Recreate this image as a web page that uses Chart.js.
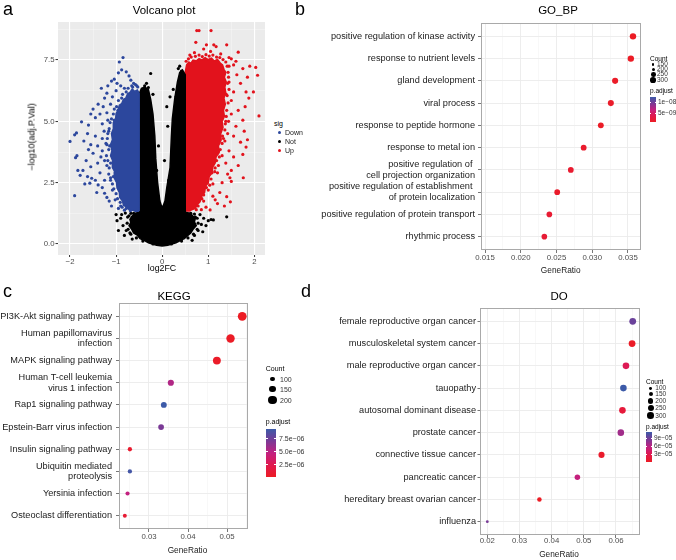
<!DOCTYPE html>
<html>
<head>
<meta charset="utf-8">
<script src="https://cdn.jsdelivr.net/npm/chart.js@4.4.0/dist/chart.umd.min.js"></script>
<style>
  body { margin: 0; background: #fff; }
  #fig { position: relative; width: 676px; height: 560px; overflow: hidden;
         font-family: "Liberation Sans", Arial, Helvetica, sans-serif; }
  #fig canvas { position: absolute; }
  .t { position: absolute; white-space: pre; line-height: 1; }
</style>
</head>
<body>
<div id="fig">
  <canvas id="chartVolcano" width="270" height="272" style="left:0;top:0"></canvas>
  <canvas id="chartGO" width="376" height="272" style="left:300px;top:0"></canvas>
  <canvas id="chartKEGG" width="300" height="288" style="left:0;top:272px"></canvas>
  <canvas id="chartDO" width="376" height="288" style="left:300px;top:272px"></canvas>
</div>
<script>
// ---------- a: volcano plot ----------
// the dense middle of each cloud is an outline [log2FC, -log10 p]; loose points around it are listed one by one
const downCloud = [[-0.5,1.35],[-0.5,6.15],[-0.54,6.28],[-0.6,6.22],[-0.65,6.32],[-0.7,6.18],[-0.75,6.12],[-0.79,5.95],
  [-0.84,5.9],[-0.88,5.72],[-0.93,5.66],[-0.96,5.45],[-1.0,5.32],[-1.01,5.1],[-1.06,4.95],[-1.06,4.7],[-1.1,4.5],
  [-1.08,4.25],[-1.12,4.05],[-1.09,3.8],[-1.12,3.6],[-1.07,3.38],[-1.08,3.12],[-1.03,2.95],[-1.04,2.7],[-0.99,2.5],
  [-0.98,2.28],[-0.93,2.1],[-0.92,1.9],[-0.86,1.75],[-0.84,1.58],[-0.77,1.5],[-0.72,1.4],[-0.64,1.38],[-0.58,1.33],
  [-0.5,1.35]];
const downPoints = [[-0.85,7.6],[-0.93,7.42],[-0.88,7.1],[-0.95,6.98],[-0.78,7.02],[-1.1,6.64],[-1.04,6.72],[-0.72,6.85],
  [-0.62,6.55],[-0.68,6.68],[-0.55,6.45],[-1.32,6.35],[-1.18,6.45],[-0.98,6.55],[-0.9,6.45],[-1.0,6.25],[-0.82,6.35],
  [-0.64,6.4],[-1.39,5.7],[-1.25,5.95],[-1.2,6.15],[-1.08,6.0],[-1.12,5.7],[-1.5,5.5],[-1.45,5.15],[-1.35,5.3],
  [-1.3,4.9],[-1.28,5.6],[-1.55,5.3],[-1.2,5.35],[-1.18,5.05],[-1.26,4.6],[-1.75,4.98],[-1.86,4.53],[-1.9,4.45],
  [-2.0,4.18],[-1.6,4.85],[-1.62,4.5],[-1.7,4.2],[-1.55,4.05],[-1.45,4.4],[-1.4,4.0],[-1.3,3.8],[-1.5,3.7],
  [-1.22,4.1],[-1.25,3.4],[-1.2,3.2],[-1.85,3.6],[-1.88,3.52],[-1.65,3.4],[-1.72,3.0],[-1.55,3.15],[-1.4,3.3],
  [-1.35,2.9],[-1.45,2.6],[-1.53,2.68],[-1.57,2.48],[-1.62,2.75],[-1.78,2.8],[-1.83,3.0],[-1.9,1.97],[-1.3,2.3],
  [-1.25,2.6],[-1.39,2.41],[-1.25,2.07],[-1.2,1.9],[-1.15,1.75],[-1.12,2.6],[-1.08,2.2],[-1.1,1.55],[-1.02,1.8],
  [-0.95,1.45],[-0.9,1.55],[-0.82,1.38],[-1.6,3.85],[-1.42,2.1],[-1.68,2.45],[-1.33,3.55],[-1.3,4.3],[-1.16,4.6],
  [-0.53,6.4],[-0.58,6.5],[-0.66,6.45],[-0.74,6.35],[-0.78,6.2],[-0.86,6.1],[-0.88,5.95],[-0.95,5.85],[-0.99,5.6],
  [-1.04,5.5],[-1.06,5.3],[-1.1,5.1],[-1.13,4.95],[-1.15,4.7],[-1.18,4.5],[-1.19,4.3],[-1.2,4.05],[-1.16,3.85],
  [-1.21,3.6],[-1.18,3.4],[-1.15,3.1],[-1.16,2.85],[-1.12,2.7],[-1.08,2.45],[-1.05,2.25],[-1.0,2.05],[-0.97,1.85],
  [-0.91,1.7],[-0.87,1.5],[-0.78,1.45],[-0.69,1.36],[-1.14,4.0],[-1.12,3.3],[-1.06,2.75],[-1.04,5.05],[-0.96,5.45]];
const notCloud = [[-0.5,6.1],[-0.5,1.3],[-0.6,1.25],[-0.66,1.12],[-0.7,1.0],[-0.68,0.88],[-0.72,0.75],[-0.66,0.6],
  [-0.62,0.45],[-0.54,0.36],[-0.48,0.22],[-0.38,0.14],[-0.3,0.05],[-0.12,-0.05],[0.0,-0.08],[0.12,-0.05],[0.3,0.05],
  [0.4,0.15],[0.48,0.22],[0.55,0.34],[0.62,0.45],[0.67,0.6],[0.74,0.75],[0.7,0.9],[0.72,1.05],[0.66,1.14],[0.62,1.25],
  [0.5,1.3],[0.5,6.9],[0.44,7.1],[0.38,7.0],[0.33,6.6],[0.27,5.9],[0.22,5.1],[0.2,4.4],[0.17,3.1],[0.1,2.3],
  [0.06,1.75],[0.0,1.45],[-0.05,1.75],[-0.1,2.5],[-0.14,3.5],[-0.16,4.4],[-0.2,5.3],[-0.25,5.9],[-0.3,6.3],
  [-0.38,6.4],[-0.45,6.35],[-0.5,6.1]];
const notPoints = [[-0.25,6.95],[0.38,7.25],[0.42,7.05],[0.46,6.85],[0.4,6.6],[0.17,6.0],[0.24,6.3],[-0.3,6.38],
  [-0.38,6.45],[-0.2,6.1],[0.1,5.6],[0.12,4.8],[-0.08,4.0],[0.05,3.4],[-0.62,1.25],[-0.72,1.15],[-0.8,1.26],
  [-0.9,1.05],[-0.98,0.95],[-0.85,0.75],[-0.78,0.55],[-0.82,0.35],[-0.7,0.45],[-0.95,0.55],[-0.65,0.2],[-1.0,1.2],
  [-0.88,1.2],[0.62,1.25],[0.72,1.1],[0.82,1.2],[0.9,1.05],[1.0,0.95],[1.06,1.0],[1.11,0.98],[1.4,1.11],
  [0.85,0.8],[0.95,0.75],[0.78,0.55],[0.7,0.35],[0.88,0.5],[0.65,0.15],
  [-0.76,0.85],[-0.74,0.6],[-0.68,0.4],[-0.56,0.25],[-0.42,0.12],[-0.2,0.0],[0.2,0.0],[0.42,0.12],[0.56,0.25],
  [0.68,0.4],[0.76,0.6],[0.78,0.85],[0.76,1.05],[0.7,1.22],[-0.75,1.1],[-0.68,1.25],
  [-0.12,1.9],[-0.14,2.6],[-0.17,3.2],[-0.12,3.0],[-0.19,4.0],[-0.2,4.6],[-0.23,5.0],[-0.27,5.6],[0.1,1.9],
  [0.14,2.6],[0.2,3.3],[0.23,4.0],[0.24,4.7],[0.28,5.4],[0.3,6.0],[0.04,1.55],[-0.34,6.55],[0.35,7.15]];
const upCloud = [[0.5,1.35],[0.5,7.0],[0.53,7.3],[0.58,7.42],[0.62,7.36],[0.67,7.5],[0.74,7.47],[0.8,7.56],
  [0.86,7.5],[0.93,7.6],[1.0,7.52],[1.07,7.58],[1.13,7.46],[1.2,7.52],[1.26,7.38],[1.31,7.3],[1.34,7.12],[1.38,7.0],
  [1.35,6.8],[1.39,6.6],[1.36,6.4],[1.38,6.15],[1.34,5.95],[1.37,5.7],[1.33,5.45],[1.35,5.2],[1.3,5.0],[1.32,4.75],
  [1.27,4.5],[1.28,4.25],[1.22,4.0],[1.24,3.75],[1.17,3.55],[1.15,3.3],[1.1,3.15],[1.08,2.9],[1.02,2.75],[1.0,2.5],
  [0.94,2.35],[0.92,2.1],[0.86,1.95],[0.82,1.72],[0.76,1.6],[0.72,1.45],[0.64,1.4],[0.6,1.35],[0.5,1.35]];
const upPoints = [[0.75,8.7],[0.8,8.7],[1.06,8.7],[0.73,8.22],[0.96,8.12],[1.12,8.12],[1.17,8.05],[1.4,8.12],
  [1.65,7.82],[1.05,7.85],[0.9,7.95],[0.6,7.7],[0.7,7.8],[1.27,7.75],[1.5,7.55],[1.55,7.3],[1.6,7.45],[1.45,7.6],
  [1.75,7.15],[1.9,7.25],[2.03,7.2],[2.07,6.88],[1.85,6.8],[1.7,6.55],[1.62,6.9],[1.45,7.25],[1.82,6.2],[1.88,5.95],
  [1.98,6.2],[1.55,6.2],[1.5,5.85],[1.45,6.6],[2.1,5.22],[1.8,5.6],[1.65,5.45],[1.5,5.3],[1.44,5.0],[1.75,5.05],
  [1.6,4.8],[1.78,4.6],[1.85,4.25],[1.7,4.15],[1.55,4.4],[1.42,4.5],[1.82,3.95],[1.75,3.65],[1.55,3.55],[1.45,3.8],
  [1.36,4.2],[1.65,3.2],[1.5,3.0],[1.38,3.3],[1.3,3.6],[1.42,2.85],[1.47,2.7],[1.76,2.7],[1.5,2.55],[1.3,2.5],
  [1.25,2.1],[1.4,1.93],[1.48,1.72],[1.35,1.55],[1.15,1.8],[1.04,1.39],[1.2,1.65],[0.95,1.5],[0.9,1.75],[1.0,2.2],
  [1.1,2.45],[1.2,2.9],[1.22,3.2],[1.1,1.95],[0.85,1.4],
  [0.52,7.45],[0.57,7.55],[0.63,7.62],[0.72,7.65],[0.8,7.7],[0.87,7.64],[0.95,7.72],[1.02,7.66],[1.1,7.7],
  [1.18,7.62],[1.25,7.6],[1.32,7.52],[1.38,7.42],[1.41,7.25],[1.43,7.0],[1.44,6.8],[1.42,6.55],[1.45,6.3],
  [1.41,6.05],[1.43,5.75],[1.4,5.45],[1.39,5.2],[1.37,4.9],[1.36,4.65],[1.31,4.4],[1.3,4.1],[1.26,3.85],[1.24,3.55],
  [1.18,3.4],[1.15,3.1],[1.08,2.9],[1.06,2.65],[0.98,2.5],[0.96,2.3],[0.9,2.0],[0.86,1.85],[0.78,1.55],[0.74,1.4],
  [1.39,6.1],[1.38,5.0],[1.33,4.3],[1.2,3.7],[1.14,2.95],[1.03,2.4]];
const sigLabels = ["Down", "Not", "Up"];
const log2fcTicks = [-2, -1, 0, 1, 2];

// ---------- b: GO_BP ----------
const bpTerms = ["positive regulation of kinase activity", "response to nutrient levels", "gland development",
  "viral process", "response to peptide hormone", "response to metal ion",
  "positive regulation of \ncell projection organization",
  "positive regulation of establishment \nof protein localization",
  "positive regulation of protein transport", "rhythmic process"];
const bpRatio = [0.0357, 0.0354, 0.0332, 0.0326, 0.0312, 0.0288, 0.0270, 0.0251, 0.0240, 0.0233];
const bpCount = [338, 335, 322, 318, 310, 306, 303, 301, 298, 296];
const bpPadj = [1.0e-9, 1.1e-9, 1.3e-9, 1.4e-9, 1.2e-9, 1.6e-9, 1.8e-9, 1.5e-9, 2.0e-9, 2.2e-9];
const bpPadjLimits = [1.0e-9, 1.28e-8];
const bpCountBreaks = [150, 200, 250, 300];
const bpPadjBreaks = [1e-8, 5e-9];

// ---------- c: KEGG ----------
const keggTerms = ["PI3K-Akt signaling pathway", "Human papillomavirus\ninfection", "MAPK signaling pathway",
  "Human T-cell leukemia\nvirus 1 infection", "Rap1 signaling pathway", "Epstein-Barr virus infection",
  "Insulin signaling pathway", "Ubiquitin mediated\nproteolysis", "Yersinia infection", "Osteoclast differentiation"];
const keggRatio = [0.0539, 0.0509, 0.0474, 0.0356, 0.0338, 0.0331, 0.0251, 0.0251, 0.0245, 0.0238];
const keggCount = [220, 208, 193, 146, 139, 136, 103, 103, 100, 97];
const keggPadj = [2.0e-8, 1.5e-7, 3.0e-7, 5.2e-6, 9.3e-6, 7.0e-6, 6.0e-7, 9.0e-6, 4.6e-6, 9.0e-7];
const keggPadjLimits = [2.0e-8, 9.3e-6];
const keggCountBreaks = [100, 150, 200];
const keggPadjBreaks = [7.5e-6, 5.0e-6, 2.5e-6];

// ---------- d: DO ----------
const doTerms = ["female reproductive organ cancer", "musculoskeletal system cancer", "male reproductive organ cancer",
  "tauopathy", "autosomal dominant disease", "prostate cancer", "connective tissue cancer", "pancreatic cancer",
  "hereditary breast ovarian cancer", "influenza"];
const doRatio = [0.0652, 0.0650, 0.0631, 0.0623, 0.0620, 0.0615, 0.0555, 0.0480, 0.0362, 0.0200];
const doCount = [310, 309, 300, 296, 295, 292, 264, 228, 172, 96];
const doPadj = [9.2e-5, 3.0e-6, 3.2e-5, 1.13e-4, 1.6e-5, 7.0e-5, 6.0e-6, 5.5e-5, 1.0e-6, 8.6e-5];
const doPadjLimits = [1.0e-6, 1.13e-4];
const doCountBreaks = [100, 150, 200, 250, 300];
const doPadjBreaks = [9e-5, 6e-5, 3e-5];

// ---------- styling ----------
const FONT = '"Liberation Sans", Arial, Helvetica, sans-serif';
Chart.defaults.font.family = FONT;
const sigColors = ["#2C479D", "#000000", "#E2121C"];
// p.adjust colour ramp, low (red) -> high (blue)
const padjStops = [[0, "#EC1C24"], [0.25, "#E0194F"], [0.5, "#C22180"], [0.75, "#7B3A96"], [1, "#3C5AA8"]];

function hexRgb(h) { return [1, 3, 5].map(i => parseInt(h.slice(i, i + 2), 16)); }
function padjColor(p, lim) {
  let t = (p - lim[0]) / (lim[1] - lim[0]);
  t = Math.max(0, Math.min(1, t));
  for (let i = 1; i < padjStops.length; i++) {
    const [t1, c1] = padjStops[i];
    const [t0, c0] = padjStops[i - 1];
    if (t <= t1) {
      const f = (t - t0) / (t1 - t0);
      const a = hexRgb(c0), b = hexRgb(c1);
      return "rgb(" + a.map((v, k) => Math.round(v + (b[k] - v) * f)).join(",") + ")";
    }
  }
  return padjStops[padjStops.length - 1][1];
}
// dot radius from Count (area-like scaling between two anchor sizes)
function sizeScale(cLo, cHi, rLo, rHi) {
  return c => rLo + (rHi - rLo) * (Math.sqrt(c) - Math.sqrt(cLo)) / (Math.sqrt(cHi) - Math.sqrt(cLo));
}
const bpSize = sizeScale(150, 300, 1.1, 2.85);
const keggSize = sizeScale(97, 220, 2.0, 4.4);
const doSize = sizeScale(96, 310, 1.4, 3.4);

// panel background + border
function panelBox(fill, stroke) {
  return {
    id: "panelBox",
    beforeDraw(chart) {
      const { ctx, chartArea: a } = chart;
      ctx.save();
      ctx.fillStyle = fill;
      ctx.fillRect(a.left, a.top, a.width, a.height);
      ctx.restore();
    },
    afterDatasetsDraw(chart) {
      if (!stroke) return;
      const { ctx, chartArea: a } = chart;
      ctx.save();
      ctx.strokeStyle = stroke;
      ctx.lineWidth = 1;
      ctx.strokeRect(Math.round(a.left) + 0.5, Math.round(a.top) + 0.5, Math.round(a.width) - 1, Math.round(a.height) - 1);
      ctx.restore();
    }
  };
}

// continuous axis with major + minor grid
function numAxis(o) {
  const isMajor = v => Math.abs(v / o.major - Math.round(v / o.major)) < 1e-6;
  const maj = c => c.tick && isMajor(c.tick.value);
  return {
    type: "linear", min: o.min, max: o.max,
    afterFit: s => { if (o.h !== undefined) s.height = o.h; if (o.w !== undefined) s.width = o.w; },
    border: { display: false },
    grid: {
      color: c => maj(c) ? o.gridMajor : o.gridMinor,
      lineWidth: c => maj(c) ? o.lwMajor : o.lwMinor,
      tickLength: o.tickLen,
      tickColor: c => maj(c) ? o.tickCol : "rgba(0,0,0,0)",
      tickWidth: 1
    },
    ticks: {
      stepSize: o.major / 2, includeBounds: false, autoSkip: false, maxRotation: 0, maxTicksLimit: 100,
      padding: o.pad, color: "#4D4D4D", font: { size: o.font }, z: 1,
      callback: v => isMajor(v) ? o.fmt(v) : ""
    }
  };
}

const baseOptions = {
  responsive: false, animation: false, events: [],
  plugins: { legend: { display: false }, tooltip: { enabled: false } }
};

// ---------- draw a ----------
function cloudSet(pts, col) {
  return { data: pts.map(([x, y]) => ({ x, y })), showLine: true, fill: "shape", tension: 0,
    backgroundColor: col, borderColor: col, borderWidth: 1.5, pointRadius: 0 };
}
function pointSet(pts, col) {
  return { data: pts.map(([x, y]) => ({ x, y })), backgroundColor: col, borderWidth: 0, pointRadius: 1.6 };
}
const minusFmt = v => {
  const n = Math.round(v);
  return n < 0 ? "\u2212" + (-n) : String(Math.abs(n));
};
// x ticks come straight from the listed breaks (plus the half-way minor lines)
const volcanoX = numAxis({ min: -2.261, max: 2.231, major: 1, h: 17, gridMajor: "#FFFFFF", gridMinor: "rgba(255,255,255,0.55)",
  lwMajor: 1.1, lwMinor: 0.6, tickLen: 2, tickCol: "#333333", pad: 0, font: 7.8, fmt: minusFmt });
volcanoX.afterBuildTicks = s => {
  const vals = [];
  log2fcTicks.forEach((v, i) => { vals.push(v); if (i < log2fcTicks.length - 1) vals.push(v + 0.5); });
  s.ticks = vals.filter(v => v >= s.min && v <= s.max).map(v => ({ value: v }));
};
new Chart(document.getElementById("chartVolcano"), {
  type: "scatter",
  data: { datasets: [
    cloudSet(downCloud, sigColors[0]), cloudSet(notCloud, sigColors[1]), cloudSet(upCloud, sigColors[2]),
    pointSet(downPoints, sigColors[0]), pointSet(notPoints, sigColors[1]), pointSet(upPoints, sigColors[2])
  ] },
  options: {
    ...baseOptions,
    layout: { autoPadding: false, padding: { top: 22, right: 5, left: 0, bottom: 0 } },
    scales: {
      x: volcanoX,
      y: numAxis({ min: -0.448, max: 9.05, major: 2.5, w: 58, gridMajor: "#FFFFFF", gridMinor: "rgba(255,255,255,0.55)",
        lwMajor: 1.1, lwMinor: 0.6, tickLen: 2.5, tickCol: "#333333", pad: 1, font: 7.8, fmt: v => v.toFixed(1) })
    }
  },
  plugins: [panelBox("#EBEBEB", null)]
});

// ---------- draw b, c, d ----------
function dotChart(id, terms, ratio, count, padj, lim, size, o) {
  const pts = terms.map((t, i) => ({ x: ratio[i], y: i + 1, r: size(count[i]) }));
  return new Chart(document.getElementById(id), {
    type: "bubble",
    data: { datasets: [{ data: pts, backgroundColor: padj.map(p => padjColor(p, lim)), borderWidth: 0 }] },
    options: {
      ...baseOptions,
      layout: { autoPadding: false, padding: { top: o.top, right: o.right, left: 0, bottom: 0 } },
      scales: {
        x: numAxis({ min: o.xMin, max: o.xMax, major: o.major, h: o.xH, gridMajor: "#EBEBEB", gridMinor: "#F4F4F4",
          lwMajor: 0.9, lwMinor: 0.6, tickLen: 3, tickCol: "#777777", pad: o.xPad, font: 7.8, fmt: v => v.toFixed(o.dec) }),
        y: {
          type: "linear", reverse: true, min: 0.4, max: 10.6,
          afterFit: s => { s.width = o.yW; },
          border: { display: false },
          grid: { color: "#EBEBEB", lineWidth: 0.9, tickLength: o.yTick, tickColor: "#777777", tickWidth: 1 },
          ticks: { stepSize: 1, includeBounds: false, autoSkip: false, padding: o.yPad, color: "#1A1A1A",
            font: { size: 9.2, lineHeight: 1.15 }, callback: v => (terms[v - 1] || "").split("\n") }
        }
      }
    },
    plugins: [panelBox("#FFFFFF", "#A9A9A9")]
  });
}
dotChart("chartGO", bpTerms, bpRatio, bpCount, bpPadj, bpPadjLimits, bpSize,
  { top: 23, right: 35, xH: 22, xPad: 0.5, yW: 181, yTick: 3, yPad: 3, xMin: 0.01444, xMax: 0.03682, major: 0.005, dec: 3 });
dotChart("chartKEGG", keggTerms, keggRatio, keggCount, keggPadj, keggPadjLimits, keggSize,
  { top: 31, right: 52, xH: 31, xPad: 0.5, yW: 119, yTick: 3, yPad: 4, xMin: 0.02231, xMax: 0.05538, major: 0.01, dec: 2 });
dotChart("chartDO", doTerms, doRatio, doCount, doPadj, doPadjLimits, doSize,
  { top: 36, right: 36, xH: 25, xPad: -2, yW: 180, yTick: 2.5, yPad: 1.5, xMin: 0.01773, xMax: 0.06746, major: 0.01, dec: 2 });

// ---------- text, legends ----------
const fig = document.getElementById("fig");
function txt(s, x, base, size, align, color) {
  const d = document.createElement("div");
  d.className = "t";
  d.textContent = s;
  d.style.fontSize = size + "px";
  d.style.left = x + "px";
  d.style.top = (base - 0.8465 * size) + "px";
  d.style.color = color || "#000";
  if (align === "center") d.style.transform = "translateX(-50%)";
  if (align === "right") d.style.transform = "translateX(-100%)";
  fig.appendChild(d);
  return d;
}
function dot(x, y, r, col) {
  const d = document.createElement("div");
  d.style.cssText = `position:absolute;left:${x - r}px;top:${y - r}px;width:${2 * r}px;height:${2 * r}px;border-radius:50%;background:${col}`;
  fig.appendChild(d);
}
function expLabel(v, digits) {
  const [m, e] = v.toExponential(digits).split("e");
  const n = Number(e);
  return m + "e" + (n < 0 ? "\u2212" : "+") + String(Math.abs(n)).padStart(2, "0");
}
function colorbar(x, top, w, h, lim, breaks, digits, labelX, fs) {
  const g = document.createElement("div");
  const stops = padjStops.map(([t, c]) => `${c} ${t * 100}%`).join(",");
  g.style.cssText = `position:absolute;left:${x}px;top:${top}px;width:${w}px;height:${h}px;background:linear-gradient(to top,${stops})`;
  fig.appendChild(g);
  breaks.forEach(v => {
    const y = top + h * (1 - (v - lim[0]) / (lim[1] - lim[0]));
    const tk = document.createElement("div");
    tk.style.cssText = `position:absolute;left:${x}px;top:${y - 0.5}px;width:${w}px;height:1px;` +
      `background:linear-gradient(to right,#fff 0,#fff 20%,transparent 20%,transparent 80%,#fff 80%)`;
    fig.appendChild(tk);
    txt(expLabel(v, digits), labelX, y + 0.358 * fs, fs, "left", "#333");
  });
}
function countLegend(dotX, ys, breaks, size, labelX, fs) {
  breaks.forEach((c, i) => {
    dot(dotX, ys[i], size(c), "#000");
    txt(String(c), labelX, ys[i] + 0.358 * fs, fs, "left", "#333");
  });
}

// panel letters and titles
txt("a", 3, 15, 18); txt("b", 295, 15, 18); txt("c", 3, 297, 18); txt("d", 301, 297, 18);
txt("Volcano plot", 164, 15, 11.5, "center");
txt("GO_BP", 558, 15, 11.5, "center");
txt("KEGG", 174, 300.5, 11.5, "center");
txt("DO", 559, 300.7, 11.5, "center");

// axis titles
txt("log2FC", 162, 271.5, 8.8, "center");
const yt = txt("\u2212log10(adj.P.Val)", 0, 0, 9);
yt.style.left = "31.5px"; yt.style.top = "136.7px";
yt.style.transform = "translate(-50%,-50%) rotate(-90deg)";
txt("GeneRatio", 560.7, 273.5, 8.3, "center", "#222");
txt("GeneRatio", 187.5, 552.7, 8.3, "center", "#222");
txt("GeneRatio", 559, 557.3, 8.3, "center", "#222");

// a legend
txt("sig", 274, 126, 7);
[132.3, 141.3, 150.3].forEach((y, i) => {
  dot(279.3, y, 1.8, sigColors[i]);
  txt(sigLabels[i], 285, y + 2.5, 7, "left", "#222");
});

// b legend
txt("Count", 650, 61.7, 6.5);
countLegend(653.3, [64.5, 69.5, 74.5, 80], bpCountBreaks, bpSize, 657, 6.5);
txt("p.adjust", 650, 94, 6.5);
colorbar(650, 96.7, 6, 25, bpPadjLimits, bpPadjBreaks, 0, 658, 6.5);

// c legend
txt("Count", 265.7, 370.5, 7);
countLegend(272.5, [379.3, 389, 400], keggCountBreaks, keggSize, 280, 7);
txt("p.adjust", 265.7, 424, 7);
colorbar(265.7, 429, 10, 48, keggPadjLimits, keggPadjBreaks, 1, 279, 7);

// d legend
txt("Count", 646, 385, 6.5);
countLegend(650.7, [388.3, 394.3, 401, 408.3, 415.7], doCountBreaks, doSize, 655.3, 6.5);
txt("p.adjust", 646, 430, 6.5);
colorbar(646, 432.3, 6, 30, doPadjLimits, doPadjBreaks, 0, 654, 6.5);
</script>
</body>
</html>
